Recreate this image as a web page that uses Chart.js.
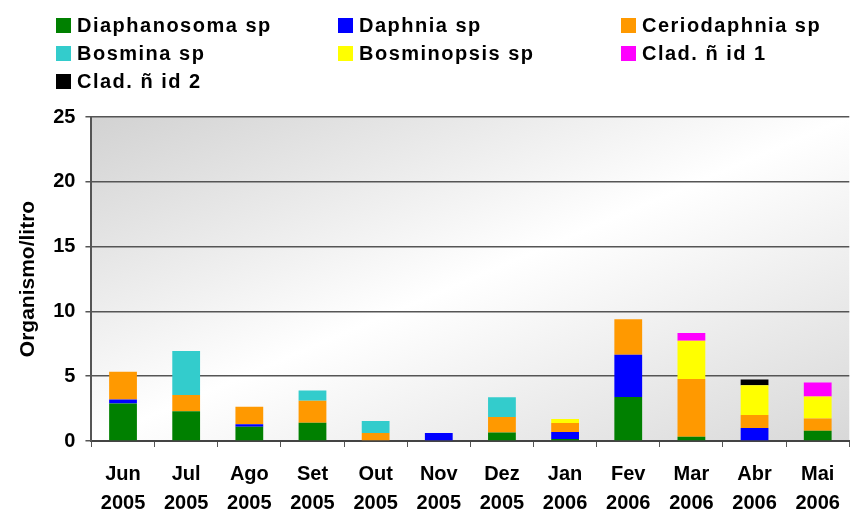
<!DOCTYPE html>
<html>
<head>
<meta charset="utf-8">
<script src="https://cdn.jsdelivr.net/npm/chart.js@4.4.0/dist/chart.umd.min.js"></script>
<style>
body { margin: 0; background: #fff; }
#caja { position: relative; width: 853px; height: 513px; }
#leyenda { position: absolute; left: 0; top: 0; width: 853px; height: 100px;
  font-family: "Liberation Sans", Arial, sans-serif;
  font-weight: bold; font-size: 20px; letter-spacing: 1.5px; color: #000; }
.item { position: absolute; display: flex; align-items: center; height: 24px; white-space: nowrap; }
.cuadro { width: 15px; height: 15px; margin-right: 6px; flex: none; }
</style>
</head>
<body>
<div id="caja">
  <canvas id="myChart" width="853" height="513"></canvas>
  <div id="leyenda"></div>
</div>
<script>
// meses y años de muestreo
const meses = ["Jun", "Jul", "Ago", "Set", "Out", "Nov", "Dez", "Jan", "Fev", "Mar", "Abr", "Mai"]
const anos = ["2005", "2005", "2005", "2005", "2005", "2005", "2005", "2006", "2006", "2006", "2006", "2006"]

// densidad de cada grupo (Organismo/litro)
const diaphanosoma = [2.9, 2.3, 1.1, 1.4, 0, 0, 0.65, 0.15, 3.4, 0.33, 0, 0.8]
const daphnia = [0.3, 0, 0.2, 0, 0, 0.62, 0, 0.54, 3.25, 0, 1.0, 0]
const ceriodaphnia = [2.15, 1.25, 1.35, 1.7, 0.62, 0, 1.2, 0.7, 2.75, 4.45, 1.0, 0.93]
const bosmina = [0, 3.4, 0, 0.8, 0.92, 0, 1.53, 0, 0, 0, 0, 0]
const bosminopsis = [0, 0, 0, 0, 0, 0, 0, 0.3, 0, 2.95, 2.3, 1.7]
const cladId1 = [0, 0, 0, 0, 0, 0, 0, 0, 0, 0.6, 0, 1.08]
const cladId2 = [0, 0, 0, 0, 0, 0, 0, 0, 0, 0, 0.45, 0]

const ticksY = [0, 5, 10, 15, 20, 25]

const series = [
  { label: "Diaphanosoma sp", data: diaphanosoma, color: "#008000" },
  { label: "Daphnia sp", data: daphnia, color: "#0000ff" },
  { label: "Ceriodaphnia sp", data: ceriodaphnia, color: "#ff9900" },
  { label: "Bosmina sp", data: bosmina, color: "#33cccc" },
  { label: "Bosminopsis sp", data: bosminopsis, color: "#ffff00" },
  { label: "Clad. ñ id 1", data: cladId1, color: "#ff00ff" },
  { label: "Clad. ñ id 2", data: cladId2, color: "#000000" }
]

// leyenda en tres columnas
const leyenda = document.getElementById("leyenda")
const colX = [56, 338, 621]
series.forEach((s, i) => {
  const div = document.createElement("div")
  div.className = "item"
  div.style.left = colX[i % 3] + "px"
  div.style.top = (13 + 28 * Math.floor(i / 3)) + "px"
  div.innerHTML = `<span class="cuadro" style="background:${s.color}"></span><span>${s.label}</span>`
  leyenda.appendChild(div)
})

// fondo degradado del area de trazado
const fondoGradiente = {
  id: "fondoGradiente",
  beforeDraw(chart) {
    const { ctx, chartArea: a } = chart
    const w = a.right - a.left, h = a.bottom - a.top
    const cx = a.left + w / 2, cy = a.top + h / 2
    const len = Math.hypot(w, h)
    const dx = h / len, dy = w / len
    const k = w / 2 * dx + h / 2 * dy
    const g = ctx.createLinearGradient(cx - k * dx, cy - k * dy, cx + k * dx, cy + k * dy)
    g.addColorStop(0, "#d2d2d2")
    g.addColorStop(0.5, "#ffffff")
    g.addColorStop(1, "#d8d8d8")
    ctx.save()
    ctx.fillStyle = g
    ctx.fillRect(a.left, a.top, w, h)
    ctx.restore()
  }
}

const grafica = document.getElementById("myChart").getContext("2d")
const myChart = new Chart(grafica, {
  type: "bar",
  data: {
    labels: meses.map((m, i) => [m, anos[i]]),
    datasets: series.map(s => ({
      label: s.label,
      data: s.data,
      backgroundColor: s.color,
      borderWidth: 0,
      barPercentage: 0.44,
      categoryPercentage: 1
    }))
  },
  plugins: [fondoGradiente],
  options: {
    responsive: false,
    animation: false,
    layout: { padding: { top: 117, left: 16, right: 1, bottom: -18 } },
    plugins: {
      legend: { display: false },
      tooltip: { enabled: false }
    },
    scales: {
      x: {
        stacked: true,
        grid: { display: true, drawOnChartArea: false, tickLength: 6, color: "#555", offset: true },
        border: { display: true, color: "#444", width: 2 },
        ticks: {
          color: "#000",
          padding: 13,
          font: { family: "Liberation Sans, Arial, sans-serif", size: 20, weight: "bold", lineHeight: 1.45 }
        }
      },
      y: {
        stacked: true,
        min: 0,
        max: 25,
        afterBuildTicks: axis => { axis.ticks = ticksY.map(v => ({ value: v })) },
        grid: { color: "#555", lineWidth: 1.5, tickLength: 6 },
        border: { display: true, color: "#555", width: 2 },
        ticks: {
          color: "#000",
          padding: 10,
          font: { family: "Liberation Sans, Arial, sans-serif", size: 20, weight: "bold" }
        },
        title: {
          display: true,
          text: "Organismo/litro",
          color: "#000",
          padding: { top: 0, bottom: 2 },
          font: { family: "Liberation Sans, Arial, sans-serif", size: 21, weight: "bold" }
        }
      }
    }
  }
})
</script>
</body>
</html>
